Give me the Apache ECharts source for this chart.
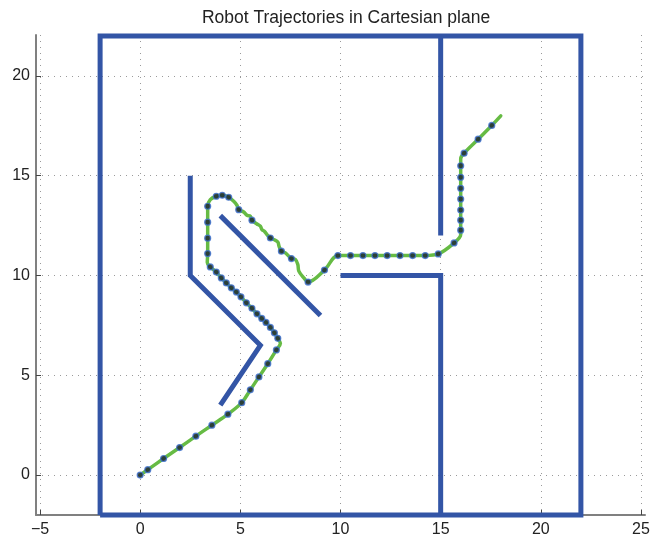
<!DOCTYPE html>
<html>
<head>
<meta charset="utf-8">
<script src="https://cdn.jsdelivr.net/npm/echarts@6/dist/echarts.min.js"></script>
<style>
  html, body { margin: 0; padding: 0; background: #fff; }
  #chart { width: 654px; height: 546px; }
</style>
</head>
<body>
<div id="chart"></div>
<script>
// Axis ticks
const xTicks = [-5, 0, 5, 10, 15, 20, 25];
const yTicks = [0, 5, 10, 15, 20];

// Walls of the environment, each a polyline of [x, y] vertices
const outerWall = [[-2, -2], [-2, 22], [22, 22], [22, -2], [-2, -2]];
const doorUpper = [[15, 22], [15, 12]];
const doorLower = [[10, 10], [15, 10], [15, -2]];
const chevron = [[2.5, 15], [2.5, 10], [6, 6.5], [4, 3.5]];
const diagonal = [[4, 13], [9, 8]];

// Robot path (including the bends between recorded samples)
const pathX = [0, 0.38, 1.17, 1.97, 2.78, 3.58, 4.38, 5.07, 5.5, 5.93, 6.37, 6.8, 7.0,
  6.87, 6.7, 6.5, 6.28, 6.07, 5.83, 5.58, 5.3, 5.03, 4.8, 4.55, 4.3, 4.05, 3.8, 3.5, 3.35,
  3.37, 3.37, 3.37, 3.37, 3.5, 3.8, 4.1, 4.42, 4.67, 4.83, 4.92, 5.17, 5.33, 5.5, 5.58,
  5.83, 6.0, 6.08, 6.2, 6.33, 6.5, 6.67, 6.87, 6.93, 7.05, 7.25, 7.55, 7.75, 7.87, 7.92,
  8.17, 8.38, 9.2, 9.87, 10.5, 11.12, 11.72, 12.33, 12.97, 13.6, 14.23, 14.88, 15.67,
  16.0, 16.0, 16.0, 16.0, 16.0, 16.0, 16.0, 16.0, 16.0, 16.17, 16.87, 17.55, 18.0];
const pathY = [0, 0.27, 0.83, 1.38, 1.95, 2.5, 3.05, 3.63, 4.27, 4.92, 5.58, 6.27, 6.6,
  6.85, 7.13, 7.4, 7.65, 7.85, 8.08, 8.36, 8.63, 8.93, 9.17, 9.38, 9.63, 9.88, 10.17, 10.43, 10.65,
  11.1, 11.87, 12.67, 13.47, 13.8, 13.97, 14.02, 13.92, 13.72, 13.52, 13.3, 13.18, 13.02, 12.97, 12.77,
  12.58, 12.47, 12.3, 12.22, 12.05, 11.88, 11.8, 11.68, 11.47, 11.22, 11.13, 10.85, 10.8, 10.55, 10.22,
  9.88, 9.67, 10.27, 11.0, 11.0, 11.0, 11.0, 11.0, 11.0, 11.0, 11.0, 11.08, 11.63,
  12.05, 12.27, 12.77, 13.28, 13.83, 14.37, 14.92, 15.5, 15.85, 16.13, 16.83, 17.52, 18.0];

// Recorded samples along the path
const sampleX = [0, 0.38, 1.17, 1.97, 2.78, 3.58, 4.38, 5.07, 5.5, 5.93, 6.37, 6.8,
  6.87, 6.7, 6.5, 6.28, 6.07, 5.83, 5.58, 5.3, 5.03, 4.8, 4.55, 4.3, 4.05, 3.8, 3.5,
  3.37, 3.37, 3.37, 3.37, 3.8, 4.1, 4.42, 4.92, 5.58, 6.5, 7.05, 7.55, 8.38, 9.2, 9.87,
  10.5, 11.12, 11.72, 12.33, 12.97, 13.6, 14.23, 14.88, 15.67,
  16.0, 16.0, 16.0, 16.0, 16.0, 16.0, 16.0, 16.17, 16.87, 17.55];
const sampleY = [0, 0.27, 0.83, 1.38, 1.95, 2.5, 3.05, 3.63, 4.27, 4.92, 5.58, 6.27,
  6.85, 7.13, 7.4, 7.65, 7.85, 8.08, 8.36, 8.63, 8.93, 9.17, 9.38, 9.63, 9.88, 10.17, 10.43,
  11.1, 11.87, 12.67, 13.47, 13.97, 14.02, 13.92, 13.3, 12.77, 11.88, 11.22, 10.85, 9.67, 10.27, 11.0,
  11.0, 11.0, 11.0, 11.0, 11.0, 11.0, 11.0, 11.08, 11.63,
  12.27, 12.77, 13.28, 13.83, 14.37, 14.92, 15.5, 16.13, 16.83, 17.52];

const zip = (xs, ys) => xs.map((x, i) => [x, ys[i]]);

const wallColor = '#3355a6';
const walls = [outerWall, doorUpper, doorLower, chevron, diagonal].map(w => ({
  type: 'line',
  data: w,
  showSymbol: false,
  symbol: 'none',
  clip: false,
  silent: true,
  z: 3,
  lineStyle: { color: wallColor, width: 5, cap: 'butt', join: 'miter' }
}));

const chart = echarts.init(document.getElementById('chart'), null, { renderer: 'canvas' });

const fontFamily = 'Liberation Sans, Arial, sans-serif';
const minus = v => String(v).replace('-', '\u2212');
const gridLine = { show: true, lineStyle: { color: '#9a9a9a', width: 1, type: [1, 5] } };

chart.setOption({
  animation: false,
  backgroundColor: '#fff',
  title: {
    text: 'Robot Trajectories in Cartesian plane',
    left: 341,
    top: 4,
    textAlign: 'center',
    textStyle: { color: '#222', fontSize: 17.5, fontWeight: 'normal', fontFamily }
  },
  grid: { left: 36, right: 9, top: 35, bottom: 31, containLabel: false },
  xAxis: {
    type: 'value',
    min: -5.2,
    max: 25.2,
    axisLine: { show: true, onZero: false, lineStyle: { color: '#808080', width: 2 } },
    axisTick: { show: true, inside: true, length: 5, lineStyle: { color: '#444' }, customValues: xTicks },
    axisLabel: { margin: 7, customValues: xTicks, formatter: minus, color: '#222', fontSize: 16, fontFamily },
    splitLine: gridLine
  },
  yAxis: {
    type: 'value',
    min: -2,
    max: 22.05,
    axisLine: { show: true, onZero: false, lineStyle: { color: '#808080', width: 2 } },
    axisTick: { show: true, inside: true, length: 5, lineStyle: { color: '#444' }, customValues: yTicks },
    axisLabel: { margin: 6, customValues: yTicks, formatter: minus, color: '#222', fontSize: 16, fontFamily },
    splitLine: gridLine
  },
  series: walls.concat([
    {
      type: 'line',
      data: zip(pathX, pathY),
      showSymbol: false,
      symbol: 'none',
      smooth: 0.35,
      z: 4,
      lineStyle: { color: '#66bb44', width: 3.5, cap: 'round', join: 'round' }
    },
    {
      type: 'scatter',
      data: zip(sampleX, sampleY),
      symbol: 'circle',
      symbolSize: 6,
      z: 5,
      itemStyle: { color: '#1c2233', borderColor: '#3f74d2', borderWidth: 1.2 }
    }
  ])
});
</script>
</body>
</html>
